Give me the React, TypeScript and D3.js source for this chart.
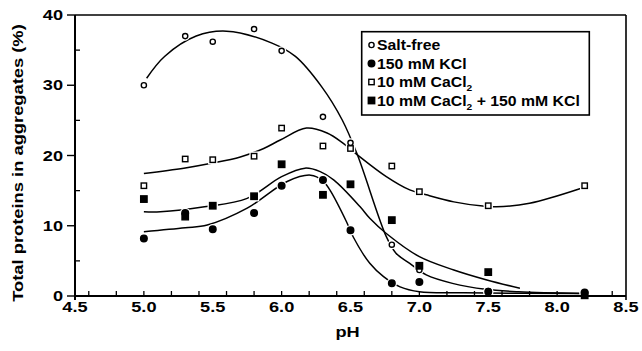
import * as d3 from "d3";

// measured pH values
const phValues = [5.0, 5.3, 5.5, 5.8, 6.0, 6.3, 6.5, 6.8, 7.0, 7.5, 8.2];

// measured points (% total proteins in aggregates)
const saltFree = [30.0, 37.0, 36.2, 38.0, 34.9, 25.5, 21.8, 7.3, 3.7, 0.7, 0.4];
const kcl150 = [8.2, 11.8, 9.5, 11.8, 15.7, 16.5, 9.35, 1.8, 2.0, 0.6, 0.5];
const cacl10 = [15.7, 19.5, 19.4, 19.9, 23.9, 21.35, 21.0, 18.5, 14.85, 12.85, 15.7];
const cacl10kcl150 = [13.8, 11.3, 12.85, 14.2, 18.75, 14.4, 15.9, 10.8, 4.3, 3.4, 0.1];

// fitted curves
const saltFreeFitX = [5.02, 5.15, 5.38, 5.6, 5.93, 6.1, 6.29, 6.44, 6.55, 6.76, 6.83, 6.93, 7.05, 7.24, 7.48, 7.72, 8.2];
const saltFreeFitY = [31.0, 34.1, 37.0, 37.7, 36.0, 34.1, 29.8, 25.05, 20.1, 8.45, 6.1, 4.65, 3.0, 1.8, 0.95, 0.6, 0.35];
const kclFitX = [5.0, 5.3, 5.46, 5.75, 6.04, 6.21, 6.3, 6.35, 6.47, 6.52, 6.64, 6.74, 6.86, 7.0, 7.32, 8.2];
const kclFitY = [9.15, 9.7, 10.1, 12.5, 16.3, 17.2, 16.4, 15.1, 10.6, 8.4, 4.65, 2.75, 1.3, 0.6, 0.45, 0.35];
const caclFitX = [5.0, 5.29, 5.49, 5.7, 5.87, 5.99, 6.18, 6.33, 6.45, 6.55, 6.76, 6.93, 7.05, 7.25, 7.46, 7.56, 7.8, 8.17];
const caclFitY = [17.45, 18.2, 18.9, 19.8, 21.0, 22.2, 23.9, 23.2, 21.7, 20.1, 17.0, 15.1, 14.4, 13.4, 12.8, 12.7, 13.2, 15.3];
const bothFitX = [5.0, 5.12, 5.44, 5.75, 6.0, 6.17, 6.28, 6.38, 6.57, 6.64, 6.76, 7.0, 7.25, 7.49, 7.73];
const bothFitY = [12.0, 12.0, 12.7, 13.9, 17.0, 18.2, 17.7, 16.5, 12.7, 11.06, 8.9, 5.6, 3.7, 2.28, 1.1];

const xTickLabels = ["4.5", "5.0", "5.5", "6.0", "6.5", "7.0", "7.5", "8.0", "8.5"];
const yTickLabels = ["0", "10", "20", "30", "40"];

const legendLabels = ["Salt-free", "150 mM KCl", "10 mM CaCl", "10 mM CaCl"];

const font = "'Liberation Sans', Arial, Helvetica, sans-serif";

type Kind = "openCircle" | "filledCircle" | "openSquare" | "filledSquare";

function Marker({ kind, cx, cy, halo = false }: { kind: Kind; cx: number; cy: number; halo?: boolean }) {
  const filled = kind === "filledCircle" || kind === "filledSquare";
  const stroke = halo ? "white" : "black";
  const sw = halo ? 4 : 1.4;
  const fill = halo ? "white" : filled ? "black" : "white";
  if (kind === "openCircle" || kind === "filledCircle") {
    const r = filled ? 3.3 : 2.6;
    return <circle cx={cx} cy={cy} r={r} fill={fill} stroke={stroke} strokeWidth={sw} />;
  }
  const s = filled ? 6.4 : 5.4;
  return <rect x={cx - s / 2} y={cy - s / 2} width={s} height={s} fill={fill} stroke={stroke} strokeWidth={sw} />;
}

export default function App() {
  const width = 642;
  const height = 351;
  const left = 75;
  const right = 626;
  const top = 15;
  const bottom = 296;

  const x = d3.scaleLinear().domain([4.5, 8.5]).range([left, right]);
  const y = d3.scaleLinear().domain([0, 40]).range([bottom, top]);

  const line = d3
    .line<[number, number]>()
    .x((d) => x(d[0]))
    .y((d) => y(d[1]))
    .curve(d3.curveCatmullRom.alpha(0.5));

  const fits: [number[], number[]][] = [
    [saltFreeFitX, saltFreeFitY],
    [kclFitX, kclFitY],
    [caclFitX, caclFitY],
    [bothFitX, bothFitY],
  ];

  const series: { kind: Kind; values: number[] }[] = [
    { kind: "openCircle", values: saltFree },
    { kind: "filledCircle", values: kcl150 },
    { kind: "openSquare", values: cacl10 },
    { kind: "filledSquare", values: cacl10kcl150 },
  ];

  const minorX = x.ticks(16);
  const minorY = [5, 15, 25, 35];
  const legendKinds: Kind[] = ["openCircle", "filledCircle", "openSquare", "filledSquare"];
  const legendBase = [50, 68.5, 87, 105.5];

  return (
    <svg
      width={width}
      height={height}
      style={{ position: "absolute", left: 0, top: 0, background: "white" }}
      fontFamily={font}
      fontWeight="bold"
    >
      <rect width={width} height={height} fill="white" />

      {/* fitted curves */}
      <g fill="none" stroke="black" strokeWidth={1.5}>
        {fits.map(([xs, ys], i) => (
          <path key={i} d={line(xs.map((v, j) => [v, ys[j]]) as [number, number][]) || ""} />
        ))}
      </g>

      {/* white halos break the curves around the symbols */}
      <g>
        {series.map((s, i) =>
          s.values.map((v, j) => <Marker key={`h${i}-${j}`} kind={s.kind} cx={x(phValues[j])} cy={y(v)} halo />)
        )}
      </g>
      <g>
        {series.map((s, i) =>
          s.values.map((v, j) => <Marker key={`m${i}-${j}`} kind={s.kind} cx={x(phValues[j])} cy={y(v)} />)
        )}
      </g>

      {/* frame */}
      <line x1={left} x2={right} y1={top} y2={top} stroke="black" strokeWidth={1.6} />
      <line x1={right} x2={right} y1={top} y2={bottom + 4} stroke="black" strokeWidth={1.6} />
      <line x1={left} x2={left} y1={top} y2={bottom + 4} stroke="black" strokeWidth={2} />
      <line x1={left - 1} x2={right} y1={bottom} y2={bottom} stroke="black" strokeWidth={2} />

      {/* x ticks */}
      {minorX.map((t, i) => (
        <line key={i} x1={x(t)} x2={x(t)} y1={bottom} y2={bottom - 5} stroke="black" strokeWidth={1.3} />
      ))}
      {xTickLabels.map((l) => (
        <text
          key={l}
          transform={`translate(${x(+l)},${bottom + 16}) scale(1.3,1)`}
          textAnchor="middle"
          fontSize={14}
        >
          {l}
        </text>
      ))}

      {/* y ticks */}
      {yTickLabels.map((l) => (
        <g key={l}>
          <line x1={left - 8} x2={left} y1={y(+l)} y2={y(+l)} stroke="black" strokeWidth={1.4} />
          <text transform={`translate(${left - 12},${y(+l) + 5}) scale(1.3,1)`} textAnchor="end" fontSize={14}>
            {l}
          </text>
        </g>
      ))}
      {minorY.map((t) => (
        <line key={t} x1={left} x2={left + 5} y1={y(t)} y2={y(t)} stroke="black" strokeWidth={1.3} />
      ))}

      {/* axis titles */}
      <text transform={`translate(347.5,337) scale(1.3,1)`} textAnchor="middle" fontSize={14}>
        pH
      </text>
      <text transform={`translate(23,163) rotate(-90) scale(1.31,1)`} textAnchor="middle" fontSize={14}>
        Total proteins in aggregates (%)
      </text>

      {/* legend */}
      <rect x={361.7} y={31.7} width={227.6} height={83.3} fill="white" stroke="black" strokeWidth={1.6} />
      {legendLabels.map((l, i) => (
        <g key={i}>
          <Marker kind={legendKinds[i]} cx={371.5} cy={legendBase[i] - 5} />
          <text transform={`translate(377,${legendBase[i]}) scale(1.13,1)`} fontSize={14}>
            {l}
            {i >= 2 && (
              <tspan fontSize={9} dy={4}>
                2
              </tspan>
            )}
            {i === 3 && <tspan dy={-4}> + 150 mM KCl</tspan>}
          </text>
        </g>
      ))}
    </svg>
  );
}
